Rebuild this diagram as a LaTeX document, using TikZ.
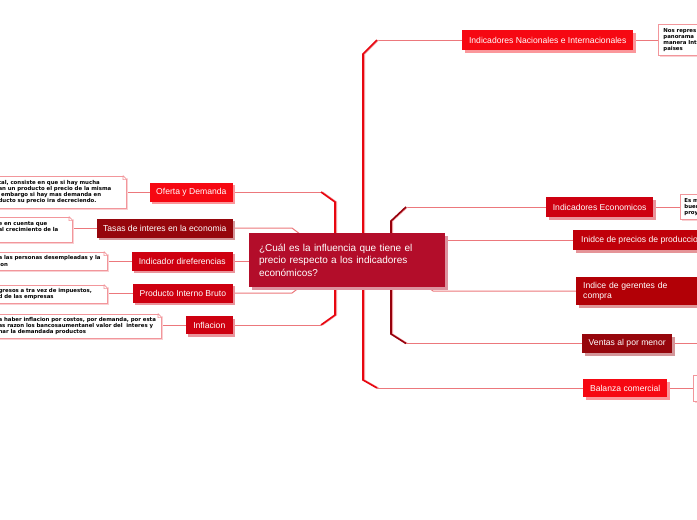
\documentclass[tikz,border=0pt]{standalone}
\usepackage{fontspec}
\usetikzlibrary{shadows,backgrounds}
\setmainfont{Liberation Sans}
\newfontfamily\notefamily{DejaVu Sans}
\newcommand\lblfont{\fontsize{8.6}{10.5}\selectfont}
\newcommand\ctrfont{\fontsize{10}{12.5}\selectfont}
\newcommand\notefont{\notefamily\bfseries\fontsize{5.4}{6.2}\selectfont}

\definecolor{ctrred}{RGB}{179,13,42}
\definecolor{rojo}{RGB}{246,8,18}
\definecolor{rojomed}{RGB}{206,0,16}
\definecolor{rojoosc}{RGB}{192,0,10}
\definecolor{granate}{RGB}{178,0,6}
\definecolor{marron}{RGB}{150,6,12}
\definecolor{linkpink}{RGB}{236,120,124}
\definecolor{trunkred}{RGB}{232,6,16}
\definecolor{trunkdark}{RGB}{150,0,12}
\definecolor{notepink}{RGB}{242,150,155}

\begin{document}
\begin{tikzpicture}[x=1pt, y=-1pt,
        topic/.style={
        rectangle, fill=#1, text=white,
        font=\lblfont, inner sep=0pt,
        general shadow={fill=#1!42!white, shadow xshift=2.5pt, shadow yshift=-2.5pt}},
        ctr/.style={
        rectangle, fill=ctrred, text=white,
        font=\ctrfont, align=left,
        inner xsep=10pt, inner ysep=0pt,
        general shadow={fill=ctrred!45!white, shadow xshift=2.5pt, shadow yshift=-2.5pt}},
        note/.style={
        rectangle, draw=notepink, fill=white, line width=0.8pt,
        font=\notefont, align=left,
        inner xsep=4pt, inner ysep=0pt,
        general shadow={fill=notepink!45!white, shadow xshift=1.5pt, shadow yshift=-1.5pt}},
        link/.style={draw=linkpink, line width=1pt},
        trunk/.style={draw=#1, line width=1.6pt,
        preaction={draw=linkpink!70!white, line width=1.2pt, transform canvas={xshift=1.4pt}}},
        trunk/.default=trunkred,
        ]

        \useasboundingbox (0,0) rectangle (697,520);

        % central topic
        \node (centro) [ctr, minimum width=196pt, minimum height=54pt, text width=176pt]
            at (347,260) {¿Cuál es la influencia que tiene el\\precio respecto a los indicadores\\económicos?};

        % left branch
        \node (oferta) [topic=rojo, minimum width=83pt, minimum height=19pt, anchor=east] at (233,192) {Oferta y Demanda};
        \node (tasas) [topic=marron, minimum width=136pt, minimum height=19pt, anchor=east] at (233,228) {Tasas de interes en la economia};
        \node (indicador) [topic=rojomed, minimum width=101pt, minimum height=19pt, anchor=east] at (233,261) {Indicador direferencias};
        \node (producto) [topic=rojomed, minimum width=100pt, minimum height=19pt, anchor=east] at (233,293) {Producto Interno Bruto};
        \node (inflacion) [topic=rojomed, minimum width=47pt, minimum height=18pt, anchor=east] at (233,325) {Inflacion};

        \node (n1) [note, text width=124pt, minimum height=32pt, anchor=east] at (127,192)
            {tal, consiste en que si hay mucha\\an un producto el precio de la misma\\\hspace*{2.5pt}embargo si hay mas demanda en\\ducto su precio ira decreciendo.};
        \node (n2) [note, text width=70pt, minimum height=25pt, anchor=east] at (73,229.5)
            {e en cuenta que\\al crecimiento de la\\\mbox{}};
        \node (n3) [note, text width=105pt, minimum height=18pt, anchor=east] at (108,261)
            {a las personas desempleadas y la\\ion};
        \node (n4) [note, text width=105pt, minimum height=18pt, anchor=east] at (108,294)
            {gresos a tra vez de impuestos,\\d de las empresas};
        \node (n5) [note, text width=159pt, minimum height=24pt, anchor=east] at (162,326)
            {a haber inflacion por costos, por demanda, por esta\\as razon los bancosaumentanel valor del\ \ interes y\\nar la demandada productos};

        % right branch
        \node (nacionales) [topic=rojo, minimum width=171pt, minimum height=20pt, anchor=west] at (462,40) {Indicadores Nacionales e Internacionales};
        \node (economicos) [topic=rojomed, minimum width=107pt, minimum height=20pt, anchor=west] at (546,207) {Indicadores Economicos};
        \node (precios) [topic=rojoosc, minimum height=20pt, inner xsep=8pt, anchor=west] at (573,240) {Inidce de precios de produccion};
        \node (gerentes) [topic=granate, minimum height=28pt, text width=136pt, align=left, inner xsep=7pt, anchor=north west] at (576,277) {Indice de gerentes de\\compra};
        \node (ventas) [topic=marron, minimum width=90pt, minimum height=19pt, anchor=west] at (582,343.5) {Ventas al por menor};
        \node (balanza) [topic=rojo, minimum width=84pt, minimum height=18pt, anchor=west] at (583,388) {Balanza comercial};

        \node (r1) [note, text width=80pt, minimum height=31pt, inner xsep=5pt, anchor=west] at (658,40)
            {Nos repres\\panorama\\manera Int\\paises};
        \node (r2) [note, text width=60pt, minimum height=25pt, anchor=west] at (680,207)
            {Es m\\buen\\proy};
        \node (r3) [note, text width=60pt, minimum height=26pt, anchor=west] at (693,388) {};

        % folded corners
        \foreach \n in {n1,n2,n3,n4,n5} {
            \fill[white] ([xshift=-4pt]\n.north east) -- ([xshift=1pt]\n.north east) -- ([yshift=-4pt]\n.north east) -- cycle;
            \draw[notepink, line width=0.6pt] ([xshift=-4pt]\n.north east) -- ([yshift=-4pt]\n.north east)
                ([xshift=-4pt]\n.north east) -- ++(0,4) -- ++(4,0);
        }

        % bends of the connectors
        \coordinate (lt1) at (321,192);
        \coordinate (lt2) at (335,202);
        \coordinate (lt3) at (335,315);
        \coordinate (lt4) at (321,325);
        \coordinate (li1) at (292,228);
        \coordinate (li2) at (300,234);
        \coordinate (li3) at (292,293);
        \coordinate (li4) at (300,287);
        \coordinate (rt1) at (377,40);
        \coordinate (rt2) at (363,54);
        \coordinate (rt3) at (363,380);
        \coordinate (rt4) at (377,388);
        \coordinate (ri1) at (406,207);
        \coordinate (ri2) at (391,221);
        \coordinate (ri3) at (391,334);
        \coordinate (ri4) at (406,343.5);
        \coordinate (rg1) at (424,284);
        \coordinate (rg2) at (433,291);
        \coordinate (vfin) at (720,343.5);

        \begin{scope}[on background layer]
            \fill[white] (0,0) rectangle (697,520);

            \draw[link] (n1.east |- oferta.west) -- (oferta.west);
            \draw[link] (n2.east |- tasas.west) -- (tasas.west);
            \draw[link] (n3.east |- indicador.west) -- (indicador.west);
            \draw[link] (n4.east |- producto.west) -- (producto.west);
            \draw[link] (n5.east |- inflacion.west) -- (inflacion.west);

            \draw[link] (oferta.east) -- (lt1);
            \draw[trunk] (lt1) -- (lt2) -- (lt3) -- (lt4);
            \draw[link] (lt4) -- (inflacion.east);
            \draw[link] (tasas.east) -- (li1) -- (li2);
            \draw[link] (producto.east) -- (li3) -- (li4);
            \draw[link] (indicador.east) -- (indicador.east -| centro.west);

            \draw[link] (rt1) -- (nacionales.west);
            \draw[trunk] (rt1) -- (rt2) -- (rt3) -- (rt4);
            \draw[link] (rt4) -- (balanza.west);
            \draw[link] (ri1) -- (economicos.west);
            \draw[trunk=trunkdark] (ri1) -- (ri2) -- (ri3) -- (ri4);
            \draw[link] (ri4) -- (ventas.west);
            \draw[link] (precios.west -| centro.east) -- (precios.west);
            \draw[link] (rg1) -- (rg2) -- (gerentes.west);

            \draw[link] (nacionales.east) -- (r1.west);
            \draw[link] (economicos.east) -- (r2.west);
            \draw[link] (balanza.east) -- (r3.west);
            \draw[link] (ventas.east) -- (vfin);
        \end{scope}
\end{tikzpicture}
\end{document}
